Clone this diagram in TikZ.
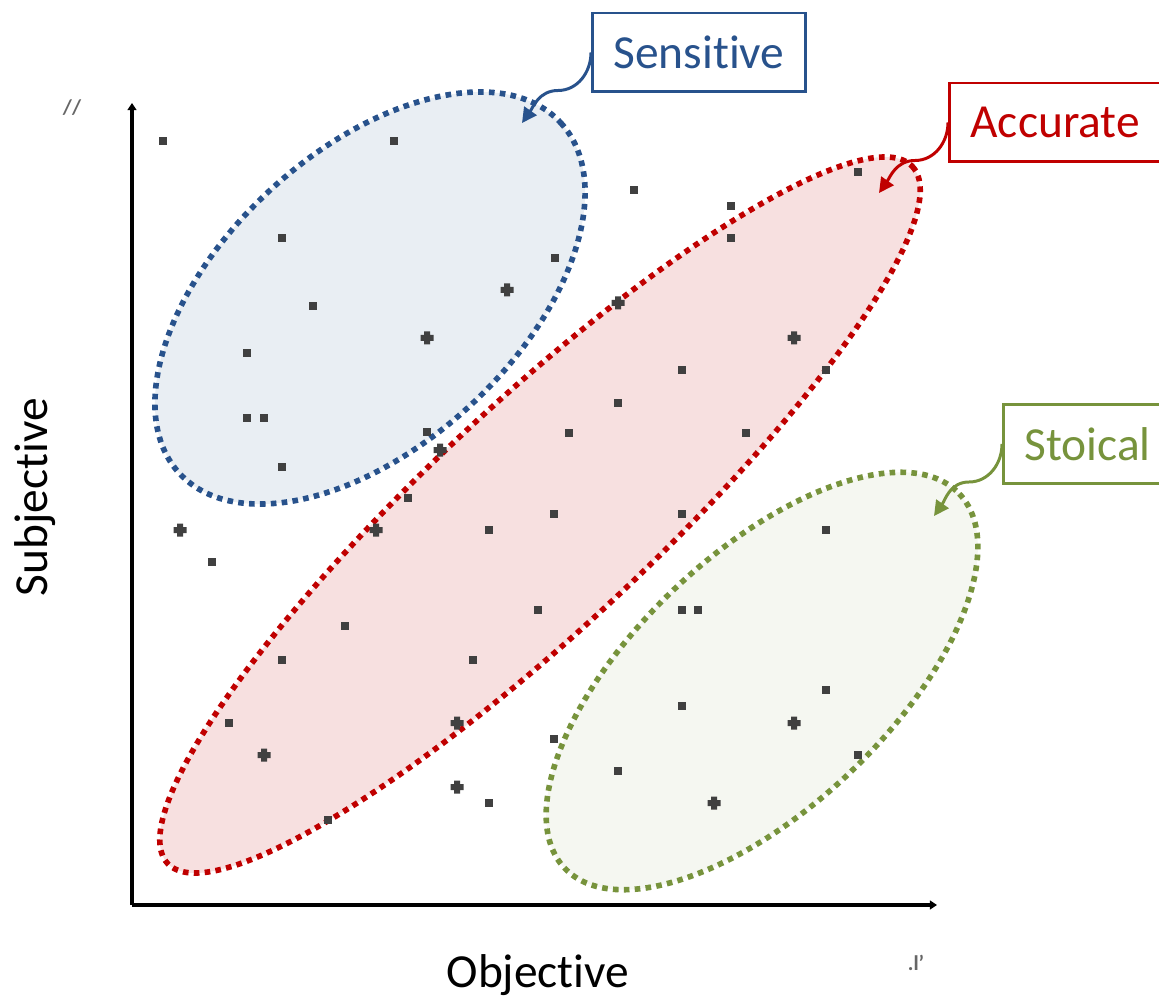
\documentclass[tikz,border=0pt]{standalone}
\usepackage{fontspec}
\setmainfont{Carlito}[Ligatures=NoCommon]
\usetikzlibrary{arrows.meta}
\definecolor{sensblue}{RGB}{40,82,140}
\definecolor{accred}{RGB}{192,0,0}
\definecolor{stogreen}{RGB}{119,147,60}
\tikzset{
  group/.style={line width=3.2pt,dash pattern=on 3.2pt off 3pt},
  tag/.style={draw=#1,text=#1,line width=1.7pt,fill=white,anchor=west,inner xsep=0.42cm,
    minimum height=1.58cm,font=\fontsize{27}{32}\selectfont},
  callout/.style={line width=1.7pt,-{Triangle[length=8.5pt,width=8.5pt]}},
  axis/.style={line width=2.3pt,-{Triangle[length=4pt,width=5pt]}},
  pdot/.style={fill=black!75,inner sep=0,minimum size=0.17cm},
}
\begin{document}
\begin{tikzpicture}[x=0.02cm,y=-0.02cm,semithick]
\useasboundingbox(0,0)rectangle(1159,1003);
% groups
\draw[group,sensblue,fill=sensblue!10,shift={(370,298)},rotate=42.6](0,0)ellipse[x radius=259,y radius=147];
\draw[group,accred,fill=accred!12,shift={(540,515)},rotate=43.1](0,0)ellipse[x radius=510,y radius=112];
\draw[group,stogreen,fill=stogreen!7,shift={(762,681)},rotate=43.5](0,0)ellipse[x radius=272,y radius=127];
% axes
\coordinate(O)at(132,905);\coordinate(Y)at(132,103);\coordinate(X)at(937,905);
\draw[axis](O)--(Y);\draw[axis](O)--(X);
\node[black!60,font=\large\bfseries](ymark)at(72,108){//};
\node[black!60,font=\large\bfseries](xmark)at(916,963){.l'};
\node[rotate=90,font=\fontsize{27}{32}\selectfont](ylab)at(35,497){Subjective};
\node[font=\fontsize{27}{32}\selectfont](xlab)at(538,975){Objective};
% data
\foreach \x/\y [count=\i] in {163/141,394/141,282/238,313/306,247/353,555/258,247/418,264/418,
  282/467,427/432,634/190,731/206,731/238,858/172,682/370,826/370,618/403,569/433,746/433,
  408/498,489/530,554/514,682/514,212/562,826/530,345/626,538/610,682/610,698/610,282/660,
  473/660,826/690,229/723,682/706,554/739,858/755,618/771,489/803,328/820}
  \node[pdot](p\i)at(\x,\y){};
\foreach \x/\y [count=\i] in {180/530,427/338,507/290,376/530,440/450,618/303,794/338,
  457/723,794/723,264/755,457/787,714/803}{
  \node[pdot,minimum size=0.1cm](q\i)at(\x,\y){};
  \fill[black!75](q\i.center)+(-6.5,-3)rectangle+(6.5,3)+(-3,-6.5)rectangle+(3,6.5);}
% labels
\node[tag=sensblue](sens)at(591,52.5){Sensitive};
\node[tag=accred,text width=4.4cm,align=left](acc)at(948,122.5){Accurate};
\node[tag=stogreen,text width=4.4cm,align=left](sto)at(1002,444){Stoical};
\coordinate(senstip)at(522,123);\coordinate(acctip)at(879,193);\coordinate(stotip)at(934,516);
\draw[callout,sensblue](sens.west)to[out=-90,in=0]++(-33,38)to[out=180,in=55](senstip);
\draw[callout,accred](acc.west)to[out=-90,in=0]++(-33,38)to[out=180,in=55](acctip);
\draw[callout,stogreen](sto.west)to[out=-90,in=0]++(-33,38)to[out=180,in=55](stotip);
\end{tikzpicture}
\end{document}
